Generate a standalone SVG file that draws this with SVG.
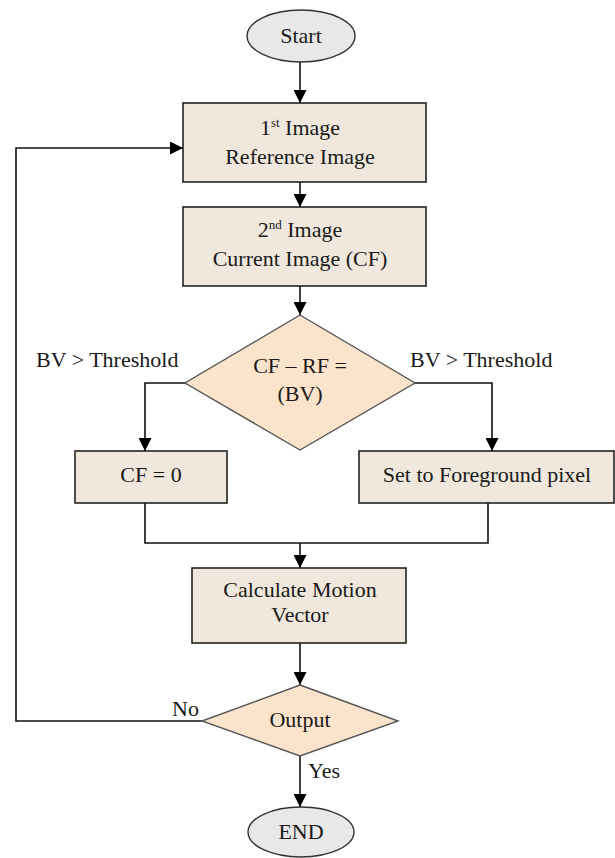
<svg xmlns="http://www.w3.org/2000/svg" width="615" height="858" viewBox="0 0 615 858">
<defs>
<style>
.box{fill:#F0E8DC;stroke:#222;stroke-width:1.6}
.dia{fill:#FCE3CB;stroke:#555;stroke-width:1.4}
.ell{fill:#E8E8E8;stroke:#333;stroke-width:1.4}
.t{font-family:"Liberation Serif","Times New Roman",serif;font-size:22px;fill:#1a1a1a;text-anchor:middle}
.l{font-family:"Liberation Serif","Times New Roman",serif;font-size:22px;fill:#1a1a1a}
.sup{font-size:13px}
.c{fill:none;stroke:#111;stroke-width:1.6}
</style>
<marker id="ah" markerUnits="userSpaceOnUse" markerWidth="13" markerHeight="13" refX="13" refY="6.5" orient="auto">
<path d="M0,0 L13,6.5 L0,13 z" fill="#000"/>
</marker>
</defs>
<rect width="615" height="858" fill="#fff"/>
<g id="connectors">
<line class="c" x1="300" y1="62" x2="300" y2="103" marker-end="url(#ah)"/>
<line class="c" x1="300" y1="182" x2="300" y2="207" marker-end="url(#ah)"/>
<line class="c" x1="300" y1="286" x2="300" y2="315" marker-end="url(#ah)"/>
<polyline class="c" points="185,383 145,383 145,451" marker-end="url(#ah)"/>
<polyline class="c" points="415,383 492,383 492,451" marker-end="url(#ah)"/>
<polyline class="c" points="145,503 145,543 488,543 488,503"/>
<line class="c" x1="300" y1="543" x2="300" y2="568" marker-end="url(#ah)"/>
<line class="c" x1="300" y1="643" x2="300" y2="685" marker-end="url(#ah)"/>
<line class="c" x1="300" y1="756" x2="300" y2="807" marker-end="url(#ah)"/>
<polyline class="c" points="202,721 16,721 16,148 183,148" marker-end="url(#ah)"/>
<text class="l" x="172" y="716">No</text>
<text class="l" x="308" y="778">Yes</text>
<text class="l" x="36" y="367">BV &gt; Threshold</text>
<text class="l" x="410" y="367">BV &gt; Threshold</text>
</g>
<g id="start">
<ellipse class="ell" cx="301" cy="36" rx="54" ry="26"/>
<text class="t" x="301" y="43">Start</text>
</g>
<g id="image1">
<rect class="box" x="183" y="103" width="243" height="79"/>
<text class="t" x="300" y="135">1<tspan class="sup" dy="-8">st</tspan><tspan dy="8"> Image</tspan></text>
<text class="t" x="300" y="164">Reference Image</text>
</g>
<g id="image2">
<rect class="box" x="183" y="207" width="243" height="79"/>
<text class="t" x="300" y="237">2<tspan class="sup" dy="-8">nd</tspan><tspan dy="8"> Image</tspan></text>
<text class="t" x="300" y="266">Current Image (CF)</text>
</g>
<g id="decision">
<polygon class="dia" points="300,315 415,383 300,450 185,383"/>
<text class="t" x="300" y="373">CF – RF =</text>
<text class="t" x="300" y="401">(BV)</text>
</g>
<g id="cf0">
<rect class="box" x="75" y="451" width="152" height="52"/>
<text class="t" x="151" y="482">CF = 0</text>
</g>
<g id="foreground">
<rect class="box" x="359" y="451" width="255" height="52"/>
<text class="t" x="487" y="482">Set to Foreground pixel</text>
</g>
<g id="motion">
<rect class="box" x="192" y="568" width="214" height="75"/>
<text class="t" x="300" y="597">Calculate Motion</text>
<text class="t" x="300" y="622">Vector</text>
</g>
<g id="output">
<polygon class="dia" points="300,685 398,721 300,756 202,721"/>
<text class="t" x="300" y="727">Output</text>
</g>
<g id="end">
<ellipse class="ell" cx="301" cy="832" rx="53" ry="25"/>
<text class="t" x="301" y="839">END</text>
</g>
</svg>
